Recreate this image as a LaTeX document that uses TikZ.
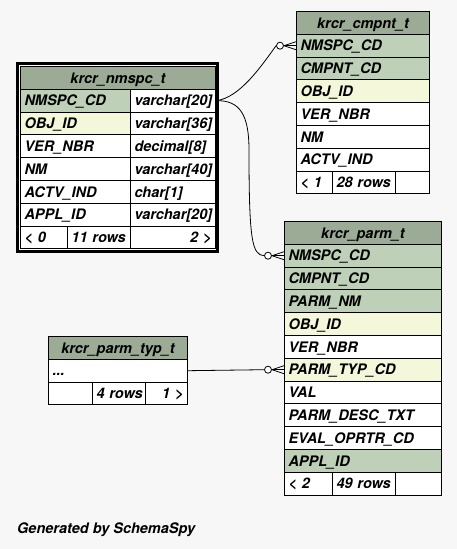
\documentclass[tikz,border=0pt]{standalone}
\usepackage{fontspec}
\setmainfont{TeX Gyre Heros}
\usetikzlibrary{calc}
\definecolor{bg}{HTML}{F7F7F7}
\definecolor{hd}{HTML}{9BAB96}
\definecolor{pk}{HTML}{BED1B8}
\definecolor{ix}{HTML}{F4F7DA}
\tikzset{
  cell/.style={draw, line width=1pt, anchor=north west, minimum height=22.8pt,
    inner xsep=4pt, inner ysep=0pt, text height=10.4pt, text depth=0pt,
    font=\fontsize{14.5}{16}\selectfont\bfseries\itshape, fill=white, align=left},
  tw/.style={text width=#1pt},
  head/.style={fill=hd, align=center},
  pkc/.style={fill=pk},
  ixc/.style={fill=ix},
  rt/.style={align=right},
  circ/.style={circle, draw, fill=white, line width=0.8pt, inner sep=0pt, minimum size=7pt},
  rel/.style={line width=0.8pt},
  foot/.style={font=\fontsize{14.5}{16}\selectfont\bfseries\itshape, anchor=base west, inner sep=0pt}
}
\begin{document}
\begin{tikzpicture}[x=1pt,y=-1pt]
\useasboundingbox (0,0) rectangle (457,549);
\fill[bg] (0,0) rectangle (457,549);

% ---- krcr_nmspc_t ----
\draw[line width=3pt, fill=white] (17.5,63.5) rectangle (217.5,251);
\node[cell, head, tw=187] (nmh) at (20,66) {krcr\_nmspc\_t};
\node[cell, pkc, tw=102] (nm1n) at (20,88.8) {NMSPC\_CD};
\node[cell, tw=77] (nm1t) at (130,88.8) {\mbox{varchar[20]}};
\node[cell, ixc, tw=102] (nm2n) at (20,111.6) {OBJ\_ID};
\node[cell, tw=77] (nm2t) at (130,111.6) {\mbox{varchar[36]}};
\node[cell, tw=102] (nm3n) at (20,134.4) {VER\_NBR};
\node[cell, tw=77] (nm3t) at (130,134.4) {\mbox{decimal[8]}};
\node[cell, tw=102] (nm4n) at (20,157.2) {NM};
\node[cell, tw=77] (nm4t) at (130,157.2) {\mbox{varchar[40]}};
\node[cell, tw=102] (nm5n) at (20,180) {ACTV\_IND};
\node[cell, tw=77] (nm5t) at (130,180) {\mbox{char[1]}};
\node[cell, tw=102] (nm6n) at (20,202.8) {APPL\_ID};
\node[cell, tw=77] (nm6t) at (130,202.8) {\mbox{varchar[20]}};
\node[cell, tw=39] (nmf1) at (20,225.6) {\mbox{< 0}};
\node[cell, tw=55] (nmf2) at (67,225.6) {\mbox{11 rows}};
\node[cell, rt, tw=77] (nmf3) at (130,225.6) {\mbox{2 >}};

% ---- krcr_cmpnt_t ----
\node[cell, head, tw=125] (cmh) at (296,11) {krcr\_cmpnt\_t};
\node[cell, pkc, tw=125] (cm1) at (296,33.8) {NMSPC\_CD};
\node[cell, pkc, tw=125] (cm2) at (296,56.6) {CMPNT\_CD};
\node[cell, ixc, tw=125] (cm3) at (296,79.4) {OBJ\_ID};
\node[cell, tw=125] (cm4) at (296,102.2) {VER\_NBR};
\node[cell, tw=125] (cm5) at (296,125) {NM};
\node[cell, tw=125] (cm6) at (296,147.8) {ACTV\_IND};
\node[cell, tw=28] (cmf1) at (296,170.6) {\mbox{< 1}};
\node[cell, tw=55] (cmf2) at (332,170.6) {\mbox{28 rows}};
\node[cell, tw=26] (cmf3) at (395,170.6) {};

% ---- krcr_parm_t ----
\node[cell, head, tw=149] (pmh) at (284,221) {krcr\_parm\_t};
\node[cell, pkc, tw=149] (pm1) at (284,243.8) {NMSPC\_CD};
\node[cell, pkc, tw=149] (pm2) at (284,266.6) {CMPNT\_CD};
\node[cell, pkc, tw=149] (pm3) at (284,289.4) {PARM\_NM};
\node[cell, ixc, tw=149] (pm4) at (284,312.2) {OBJ\_ID};
\node[cell, tw=149] (pm5) at (284,335) {VER\_NBR};
\node[cell, ixc, tw=149] (pm6) at (284,357.8) {PARM\_TYP\_CD};
\node[cell, tw=149] (pm7) at (284,380.6) {VAL};
\node[cell, tw=149] (pm8) at (284,403.4) {PARM\_DESC\_TXT};
\node[cell, tw=149] (pm9) at (284,426.2) {EVAL\_OPRTR\_CD};
\node[cell, pkc, tw=149] (pm10) at (284,449) {APPL\_ID};
\node[cell, tw=40] (pmf1) at (284,471.8) {\mbox{< 2}};
\node[cell, tw=55] (pmf2) at (332,471.8) {\mbox{49 rows}};
\node[cell, tw=38] (pmf3) at (395,471.8) {};

% ---- krcr_parm_typ_t ----
\node[cell, head, tw=131] (pth) at (48,336) {krcr\_parm\_typ\_t};
\node[cell, tw=131] (pt1) at (48,358.8) {...};
\node[cell, tw=36] (ptf1) at (48,381.6) {};
\node[cell, tw=45] (ptf2) at (92,381.6) {\mbox{4 rows}};
\node[cell, rt, tw=34] (ptf3) at (145,381.6) {\mbox{1 >}};

% ---- relationships ----
\node[circ] (o1) at ($(cm1.west)+(-16,0)$) {};
\node[circ] (o2) at ($(pm1.west)+(-16,0)$) {};
\node[circ] (o3) at ($(pm6.west)+(-16,0)$) {};
\coordinate (bend) at (249,150);

\draw[rel] (nm1t.east) .. controls (240,98) and (262,65) .. (o1.west);
\draw[rel] (nm1t.east) .. controls (240,100) and (249,115) .. (bend)
   .. controls (249,240) and (252,255) .. (o2.west);
\draw[rel] (pt1.east) -- (o3.west);

\foreach \o/\t in {o1/cm1, o2/pm1, o3/pm6}{
  \draw[rel] (\o.east) -- ($(\t.west)+(0,-4)$);
  \draw[rel] (\o.east) -- (\t.west);
  \draw[rel] (\o.east) -- ($(\t.west)+(0,4)$);
}

\node[foot] (gen) at (17,533) {Generated by SchemaSpy};
\end{tikzpicture}
\end{document}
